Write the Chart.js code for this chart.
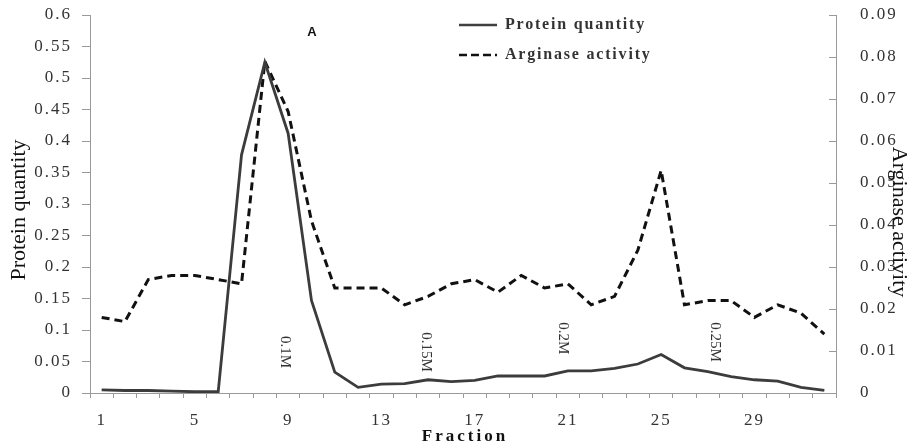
<!DOCTYPE html>
<html>
<head>
<meta charset="utf-8">
<script src="https://cdn.jsdelivr.net/npm/chart.js@4.4.1/dist/chart.umd.min.js"></script>
<style>
  html, body { margin: 0; padding: 0; background: #fff; }
  #wrap { width: 921px; height: 448px; position: relative; }
</style>
</head>
<body>
<div id="wrap"><canvas id="grafico"></canvas></div>
<script>
// datos
const fractions = ["1","2","3","4","5","6","7","8","9","10","11","12","13","14","15","16",
  "17","18","19","20","21","22","23","24","25","26","27","28","29","30","31","32"];
const proteinQuantity = [0.005, 0.004, 0.004, 0.003, 0.002, 0.002, 0.378, 0.525, 0.412, 0.147,
  0.033, 0.009, 0.014, 0.015, 0.021, 0.018, 0.020, 0.027, 0.027, 0.027, 0.035, 0.035,
  0.039, 0.046, 0.061, 0.040, 0.034, 0.026, 0.021, 0.019, 0.009, 0.004];
const arginaseActivity = [0.018, 0.017, 0.027, 0.028, 0.028, 0.027, 0.026, 0.079, 0.067, 0.041,
  0.025, 0.025, 0.025, 0.021, 0.023, 0.026, 0.027, 0.024, 0.028, 0.025, 0.026, 0.021,
  0.023, 0.034, 0.053, 0.021, 0.022, 0.022, 0.018, 0.021, 0.019, 0.014];
// etiquetas de molaridad (posicion en fraccion y en escala de proteina)
const saltLabels = ["0.1M", "0.15M", "0.2M", "0.25M"];
const saltFraction = [8.85, 14.9, 20.8, 27.3];
const saltLevel = [0.065, 0.065, 0.087, 0.081];

const AXIS = "#9a9a9a";
const TXT = "#333333";
const SERIF = "'Liberation Serif', 'DejaVu Serif', serif";

// espaciado de letras para los ticks (la figura tiene letra ancha)
const spacing = {
  id: "spacing",
  beforeDraw(chart) { chart.ctx.letterSpacing = "2px"; },
  beforeDatasetsDraw(chart) { chart.ctx.letterSpacing = "0px"; },
};

// dibujos extra: titulos, leyenda, etiquetas y marcas del eje derecho
const extras = {
  id: "extras",
  afterDraw(chart) {
    const c = chart.ctx;
    const a = chart.chartArea;
    const x = chart.scales.x, y = chart.scales.y, y1 = chart.scales.y1;
    c.save();
    c.letterSpacing = "0px";
    // marcas hacia dentro del eje derecho
    c.strokeStyle = AXIS;
    c.lineWidth = 1;
    y1.ticks.forEach((t) => {
      const py = Math.round(y1.getPixelForValue(t.value)) + 0.5;
      c.beginPath();
      c.moveTo(a.right - 7, py);
      c.lineTo(a.right, py);
      c.stroke();
    });
    // etiquetas de molaridad (texto girado)
    c.fillStyle = TXT;
    c.font = "15px " + SERIF;
    c.textAlign = "center";
    c.textBaseline = "middle";
    saltLabels.forEach((s, i) => {
      c.save();
      c.translate(x.getPixelForValue(saltFraction[i] - 1), y.getPixelForValue(saltLevel[i]));
      c.rotate(Math.PI / 2);
      c.fillText(s, 0, 0);
      c.restore();
    });
    // titulo eje izquierdo
    c.save();
    c.font = "22px " + SERIF;
    c.fillStyle = "#111";
    c.translate(19, 210);
    c.rotate(-Math.PI / 2);
    c.fillText("Protein quantity", 0, 0);
    c.restore();
    // titulo eje derecho
    c.save();
    c.font = "22px " + SERIF;
    c.fillStyle = "#111";
    c.translate(899, 222);
    c.rotate(Math.PI / 2);
    c.fillText("Arginase activity", 0, 0);
    c.restore();
    // titulo eje x
    c.font = "bold 17px " + SERIF;
    c.letterSpacing = "3px";
    c.fillStyle = "#111";
    c.fillText("Fraction", 465, 437);
    // letra del panel
    c.letterSpacing = "0px";
    c.font = "bold 13px 'Liberation Sans', Arial, sans-serif";
    c.fillText("A", 312, 32);
    // leyenda
    c.textAlign = "left";
    c.font = "bold 16px " + SERIF;
    c.letterSpacing = "1.8px";
    c.fillStyle = TXT;
    c.strokeStyle = "#404040";
    c.lineWidth = 2.5;
    c.beginPath();
    c.moveTo(459, 25);
    c.lineTo(497, 25);
    c.stroke();
    c.fillText("Protein quantity", 505, 25);
    c.strokeStyle = "#111";
    c.setLineDash([8, 4]);
    c.beginPath();
    c.moveTo(459, 55);
    c.lineTo(497, 55);
    c.stroke();
    c.setLineDash([]);
    c.fillText("Arginase activity", 505, 55);
    c.restore();
  },
};

const fmt = (v) => String(parseFloat(Number(v).toFixed(3)));

const ctx = document.getElementById("grafico").getContext("2d");
const grafico = new Chart(ctx, {
  type: "line",
  data: {
    labels: fractions,
    datasets: [
      {
        label: "Protein quantity",
        data: proteinQuantity,
        yAxisID: "y",
        borderColor: "#3c3c3c",
        borderWidth: 2.8,
        pointRadius: 0,
        tension: 0,
        fill: false,
      },
      {
        label: "Arginase activity",
        data: arginaseActivity,
        yAxisID: "y1",
        borderColor: "#111111",
        borderWidth: 3,
        borderDash: [8, 5],
        pointRadius: 0,
        tension: 0,
        fill: false,
      },
    ],
  },
  options: {
    responsive: true,
    maintainAspectRatio: false,
    animation: false,
    layout: { padding: { top: 15, left: 0, right: 0, bottom: 0 } },
    plugins: {
      legend: { display: false },
      tooltip: { enabled: false },
    },
    scales: {
      x: {
        offset: true,
        grid: {
          offset: true,
          drawOnChartArea: false,
          drawTicks: true,
          tickLength: 5,
          color: AXIS,
        },
        border: { color: AXIS, width: 1 },
        ticks: {
          autoSkip: false,
          maxRotation: 0,
          padding: 12,
          color: TXT,
          font: { size: 17, family: SERIF },
          callback: function (value, index) {
            return index % 4 === 0 ? fractions[index] : "";
          },
        },
        afterFit: (s) => { s.height = 55; s.paddingLeft = 0; s.paddingRight = 0; },
      },
      y: {
        position: "left",
        min: 0,
        max: 0.6,
        grid: {
          drawOnChartArea: false,
          drawTicks: true,
          tickLength: 8,
          color: AXIS,
        },
        border: { color: AXIS, width: 1 },
        ticks: {
          stepSize: 0.05,
          padding: 10,
          color: TXT,
          font: { size: 17, family: SERIF },
          callback: fmt,
        },
        afterFit: (s) => { s.width = 90; s.paddingTop = 0; s.paddingBottom = 0; },
      },
      y1: {
        position: "right",
        min: 0,
        max: 0.09,
        grid: { drawOnChartArea: false, drawTicks: false },
        border: { color: AXIS, width: 1 },
        ticks: {
          stepSize: 0.01,
          padding: 24,
          color: TXT,
          font: { size: 17, family: SERIF },
          callback: fmt,
        },
        afterFit: (s) => { s.width = 85; s.paddingTop = 0; s.paddingBottom = 0; },
      },
    },
  },
  plugins: [spacing, extras],
});
</script>
</body>
</html>
